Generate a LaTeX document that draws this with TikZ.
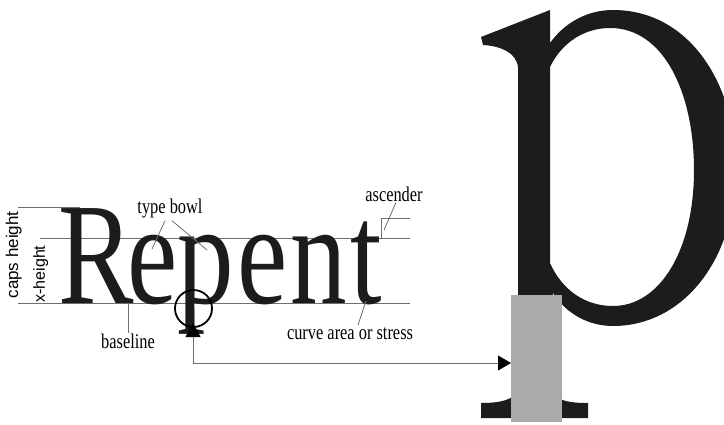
\documentclass[tikz,border=0pt]{standalone}
\usepackage{fontspec}
\setmainfont{Liberation Serif}
\setsansfont{Liberation Sans}
\usepackage{graphicx}
\usetikzlibrary{arrows.meta,calc}
\definecolor{guide}{HTML}{6E6E6E}
\definecolor{ink}{HTML}{1C1C1C}
\definecolor{stemgray}{HTML}{AAAAAA}
\newcommand{\cond}[1]{\scalebox{0.78}[1]{#1}}
\tikzset{
  guideline/.style={guide,line width=0.8pt},
  lbl/.style={inner sep=0pt,anchor=base,font=\fontsize{21}{21}\selectfont},
  vlbl/.style={inner sep=0pt,anchor=base,rotate=90,font=\sffamily\fontsize{17}{17}\selectfont}
}

\begin{document}
\begin{tikzpicture}[x=1pt,y=-1pt]
\useasboundingbox (0,0) rectangle (724,424);
\clip (0,0) rectangle (724,424);
\draw[guideline] (18,207) -- (80,207);
\draw[guideline] (40,238) -- (410,238);
\draw[guideline] (18,303) -- (410,303);
\draw[guideline] (410,218) -- (381,218) -- (381,238);
\node[vlbl] (capslbl) at (18,255) {caps height};
\node[vlbl,font=\sffamily\fontsize{16}{16}\selectfont] (xlbl) at (45,274) {x-height};
\node[anchor=base west,inner sep=0pt,ink] (word) at (58,303)
  {\cond{\fontsize{145}{145}\selectfont R\kern-8pt ep\kern4pt e\kern4pt n\kern4pt t}};
\node[lbl] (bowllbl) at (170,213) {\cond{type bowl}};
\node[lbl] (asclbl) at (394,201) {\cond{ascender}};
\node[lbl] (baselbl) at (128,348) {\cond{baseline}};
\node[lbl] (curvelbl) at (350,339) {\cond{curve area or stress}};
\coordinate (bowlA) at (152,249);
\coordinate (bowlB) at (207,250);
\coordinate (ascpt) at (384,230);
\coordinate (curvept) at (366,301);
\draw[guideline] ([xshift=-5pt,yshift=-3pt]bowllbl.south) -- (bowlA);
\draw[guideline] ([xshift=2pt,yshift=-3pt]bowllbl.south) -- (bowlB);
\draw[guideline] ([xshift=2pt,yshift=-1pt]asclbl.south) -- (ascpt);
\draw[guideline] (baselbl.north) -- (baselbl.north |- 0,303);
\draw[guideline] ([xshift=8pt,yshift=2pt]curvelbl.north) -- (curvept);
% big p
\fill[ink,even odd rule]
  (481,37) -- (550,10) -- (550,43)
  .. controls (565,22) and (588,10) .. (613,10)
  .. controls (690,10) and (736,85) .. (736,168)
  .. controls (736,260) and (683,326) .. (613,326)
  .. controls (590,326) and (567,315) .. (553,293)
  -- (550,390)
  .. controls (556,401) and (570,403) .. (588,403)
  -- (588,418) -- (481,418) -- (481,403)
  .. controls (500,403) and (514,400) .. (518,390)
  -- (518,67)
  .. controls (516,52) and (500,46) .. (483,45) -- cycle
  (550,67)
  .. controls (562,42) and (585,28) .. (610,28)
  .. controls (665,28) and (694,95) .. (694,170)
  .. controls (694,250) and (660,306) .. (613,306)
  .. controls (585,306) and (562,290) .. (550,263) -- cycle;
\node[fill=stemgray,minimum width=51pt,minimum height=127pt,inner sep=0pt] (stem) at (536.5,358.5) {};
\node[draw=black,line width=1.8pt,circle,minimum size=37pt,inner sep=0pt] (lens) at (193.5,308.5) {};
\coordinate (ptip) at (193,323);
\coordinate (hit) at (511,363);
\draw[guideline,{Triangle[length=14pt,width=15pt,color=black]}-{Triangle[length=13pt,width=15pt,color=black]}] (ptip) |- (hit);
\end{tikzpicture}
\end{document}
